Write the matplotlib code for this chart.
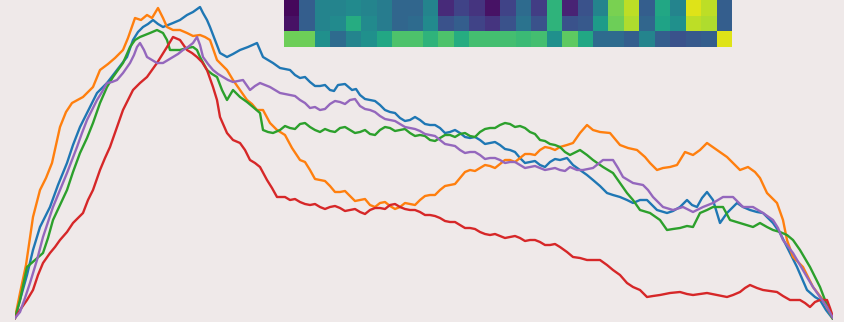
import numpy as np
import matplotlib
matplotlib.use("Agg")
import matplotlib.pyplot as plt

# walk positions (step) and heights for the five runs
blue_x = [0, 5, 12, 18, 25, 35, 43, 52, 58, 65, 72, 82, 92, 102, 112, 118, 123, 128, 133, 138, 143, 148, 153, 158, 165, 172, 178, 185, 188, 192, 195, 200, 205, 212, 218, 225, 233, 242, 248, 253, 258, 265,
          275, 280, 285, 290, 295, 300, 305, 310, 315, 319, 323, 330, 337, 341, 345, 350, 355, 360, 365, 370, 375, 380, 385, 390, 395, 400, 405, 410, 415, 420, 425, 430, 435, 440, 445, 450, 455, 460, 465, 470, 475, 480, 485, 490, 495, 500, 505, 510, 515, 520, 525, 530, 535, 540, 545,
          552, 558, 565, 572, 578, 585, 592, 598, 605, 612, 618, 625, 632, 642, 652, 658, 665, 672, 677, 682, 687, 692, 698, 705, 712, 722, 728, 735, 742, 748, 758, 765, 770, 775, 782, 792, 800, 805, 811, 818]
blue_y = [2, 20, 45, 70, 93, 113, 135, 157, 175, 193, 207, 227, 237, 250, 263, 280, 288, 293, 296, 300, 296, 293, 295, 297, 300, 305, 308, 313, 307, 300, 293, 280, 267, 263, 266, 270, 273, 277, 263, 260, 257, 252,
          250, 245, 242, 243, 238, 234, 234, 235, 230, 229, 235, 236, 230, 231, 225, 221, 220, 219, 215, 210, 208, 207, 202, 199, 200, 203, 200, 196, 195, 195, 192, 187, 188, 190, 187, 183, 182, 183, 180, 176, 177, 178, 175, 171, 170, 168, 162, 157, 158, 159, 155, 153, 158, 161, 160,
          162, 155, 150, 145, 140, 134, 127, 125, 123, 120, 117, 120, 120, 110, 107, 109, 113, 120, 115, 113, 122, 128, 120, 97, 107, 117, 113, 110, 108, 107, 97, 87, 77, 67, 53, 30, 23, 20, 10, 1]

orange_x = [0, 5, 11, 18, 25, 31, 37, 45, 51, 57, 68, 78, 85, 93, 100, 108, 113, 120, 126, 132, 137, 143, 148, 152, 158, 165, 172, 178, 185, 190, 195, 202, 207, 212, 218, 225, 232, 237, 242, 248, 255, 262,
            270, 277, 285, 290, 295, 300, 305, 310, 315, 320, 325, 330, 335, 340, 345, 350, 355, 360, 365, 370, 375, 380, 385, 390, 395, 400, 405, 410, 415, 420, 425, 430, 435, 440, 445, 450, 455, 460, 465, 470, 475, 480, 485, 490, 495, 500, 505, 510, 515, 520, 525, 530, 535, 540, 545,
            552, 558, 565, 572, 578, 585, 595, 605, 613, 622, 630, 635, 642, 648, 655, 662, 670, 678, 685, 692, 702, 712, 720, 725, 733, 740, 745, 752, 762, 768, 772, 778, 788, 798, 808, 815, 818]
orange_y = [2, 27, 55, 103, 130, 142, 157, 193, 208, 217, 223, 233, 250, 256, 262, 270, 282, 302, 300, 305, 302, 312, 302, 293, 290, 290, 287, 284, 285, 283, 280, 260, 255, 250, 240, 230, 220, 216, 210, 210, 197, 190,
            185, 172, 160, 158, 150, 141, 140, 139, 134, 128, 128, 129, 124, 119, 120, 121, 115, 113, 117, 118, 114, 111, 113, 117, 116, 115, 120, 124, 125, 125, 130, 134, 135, 136, 142, 148, 150, 149, 152, 155, 154, 152, 156, 160, 160, 158, 162, 166, 166, 165, 170, 173, 172, 170, 173,
            175, 177, 187, 195, 190, 188, 187, 175, 172, 170, 163, 157, 150, 152, 153, 155, 168, 165, 170, 177, 170, 163, 155, 150, 153, 148, 142, 127, 117, 100, 80, 63, 53, 33, 20, 7, 1]

green_x = [0, 5, 12, 20, 28, 33, 38, 45, 52, 58, 65, 72, 78, 85, 92, 98, 103, 108, 115, 120, 125, 130, 135, 142, 148, 152, 155, 160, 165, 172, 178, 182, 185, 192, 197, 202, 207, 212, 218, 225, 232, 238, 245, 248, 253, 258,
           265, 270, 275, 280, 285, 290, 295, 300, 305, 310, 315, 320, 325, 330, 335, 340, 345, 350, 355, 360, 365, 370, 375, 380, 385, 390, 395, 400, 405, 410, 415, 420, 425, 430, 435, 440, 445, 450, 455, 460, 465, 470, 475, 480, 485, 490, 495, 500, 505, 510, 515, 520, 525, 530, 535, 540, 545, 550, 555,
           565, 572, 578, 588, 598, 605, 612, 618, 625, 635, 645, 652, 658, 665, 672, 678, 685, 692, 698, 708, 715, 725, 732, 738, 745, 752, 758, 765, 772, 778, 785, 795, 805, 810, 815, 818]
green_y = [2, 20, 53, 60, 67, 82, 100, 115, 130, 148, 167, 182, 197, 217, 233, 243, 250, 257, 273, 280, 283, 285, 287, 290, 287, 280, 270, 270, 270, 272, 273, 270, 263, 250, 246, 243, 230, 220, 230, 223, 218, 213, 207, 190, 188, 187,
           190, 194, 192, 191, 196, 197, 193, 190, 188, 191, 189, 188, 192, 193, 190, 187, 188, 190, 186, 185, 190, 193, 192, 189, 190, 191, 187, 184, 185, 184, 180, 179, 182, 185, 185, 183, 186, 187, 184, 183, 188, 191, 192, 192, 195, 197, 196, 193, 194, 192, 188, 186, 180, 179, 176, 175, 173, 168, 165,
           170, 165, 160, 153, 147, 137, 127, 120, 110, 107, 100, 90, 91, 92, 94, 93, 107, 110, 113, 113, 100, 97, 95, 93, 97, 93, 90, 88, 85, 80, 70, 53, 33, 20, 7, 1]

red_x = [0, 5, 12, 18, 23, 28, 35, 40, 45, 52, 58, 63, 68, 73, 78, 85, 90, 95, 102, 108, 113, 118, 125, 132, 137, 142, 147, 152, 158, 165, 172, 177, 182, 187, 192, 198, 202, 205, 212, 218, 225, 230, 235, 240, 245, 252, 257, 262,
         270, 275, 280, 285, 290, 295, 300, 305, 310, 315, 320, 325, 330, 335, 340, 345, 350, 355, 360, 365, 370, 375, 380, 385, 390, 395, 400, 405, 410, 415, 420, 425, 430, 435, 440, 445, 450, 455, 460, 465, 470, 475, 480, 485, 490, 495, 500, 505, 510, 515, 520, 525, 530, 535, 540, 545,
         552, 558, 565, 572, 585, 592, 598, 605, 612, 618, 625, 632, 638, 645, 655, 665, 672, 678, 685, 692, 702, 712, 718, 725, 730, 735, 742, 748, 755, 762, 768, 775, 785, 790, 795, 800, 805, 812, 815, 818]
red_y = [2, 10, 20, 30, 45, 57, 67, 73, 80, 88, 97, 102, 107, 120, 130, 150, 162, 173, 193, 210, 220, 230, 237, 243, 250, 257, 265, 273, 283, 280, 270, 267, 263, 258, 250, 233, 220, 203, 187, 180, 177, 170, 160, 157, 153, 140, 132, 123,
         123, 120, 121, 118, 116, 115, 116, 113, 111, 113, 114, 112, 109, 110, 111, 108, 106, 110, 112, 112, 111, 115, 116, 113, 111, 110, 110, 108, 105, 105, 104, 102, 99, 98, 98, 95, 92, 92, 91, 88, 86, 85, 86, 84, 82, 83, 84, 82, 79, 80, 80, 78, 75, 75, 76, 73,
         68, 63, 62, 60, 60, 55, 50, 45, 37, 33, 30, 23, 24, 25, 27, 28, 26, 25, 26, 27, 25, 23, 25, 28, 32, 35, 32, 30, 29, 28, 24, 20, 20, 17, 13, 18, 20, 20, 12, 3]

purple_x = [0, 5, 10, 15, 22, 28, 33, 38, 45, 52, 57, 62, 67, 72, 77, 82, 87, 92, 97, 102, 108, 115, 119, 122, 125, 129, 132, 137, 142, 148, 153, 158, 163, 168, 173, 178, 182, 185, 188, 193, 198, 203, 208, 213, 218, 223, 228, 235, 240, 245, 250, 255, 260, 265,
            275, 280, 285, 290, 295, 300, 305, 310, 315, 320, 325, 330, 335, 340, 345, 350, 355, 360, 365, 370, 375, 380, 385, 390, 395, 400, 405, 410, 415, 420, 425, 430, 435, 440, 445, 450, 455, 460, 465, 470, 475, 480, 485, 490, 495, 500, 505, 510, 515, 520, 525, 530, 535, 540, 545, 550,
            555, 562, 568, 578, 588, 598, 603, 608, 618, 628, 633, 638, 648, 658, 668, 678, 688, 698, 708, 718, 728, 738, 748, 758, 763, 768, 778, 785, 792, 798, 805, 812, 818]
purple_y = [2, 8, 22, 37, 60, 83, 98, 113, 130, 147, 160, 173, 187, 200, 210, 220, 228, 237, 238, 240, 247, 257, 265, 273, 277, 270, 263, 260, 257, 257, 260, 263, 266, 270, 273, 277, 283, 275, 263, 256, 250, 246, 243, 240, 238, 239, 240, 230, 234, 237, 235, 233, 230, 227,
            225, 224, 220, 217, 212, 213, 210, 211, 216, 219, 218, 216, 220, 221, 214, 211, 210, 208, 204, 201, 200, 199, 196, 193, 192, 191, 189, 186, 185, 184, 180, 176, 175, 174, 170, 167, 168, 168, 165, 161, 162, 162, 160, 157, 158, 158, 155, 152, 153, 154, 152, 150, 151, 152, 150, 149,
            153, 150, 150, 152, 160, 160, 152, 143, 137, 135, 130, 123, 113, 110, 113, 108, 113, 117, 123, 123, 113, 113, 107, 100, 92, 80, 67, 55, 43, 33, 23, 13, 2]

# heatmap strip, three rows by 29 columns
strip_top = [0.02, 0.30, 0.45, 0.45, 0.48, 0.45, 0.42, 0.33, 0.33, 0.45, 0.12, 0.20, 0.15, 0.05, 0.20, 0.35, 0.18, 0.65, 0.10, 0.25, 0.45, 0.80, 0.90, 0.30, 0.60, 0.45, 0.95, 0.90, 0.30]
strip_mid = [0.05, 0.30, 0.45, 0.48, 0.62, 0.48, 0.42, 0.33, 0.35, 0.48, 0.25, 0.30, 0.20, 0.15, 0.25, 0.38, 0.25, 0.65, 0.25, 0.28, 0.55, 0.78, 0.88, 0.33, 0.58, 0.50, 0.90, 0.88, 0.30]
strip_bot = [0.78, 0.78, 0.50, 0.35, 0.45, 0.50, 0.60, 0.72, 0.72, 0.65, 0.72, 0.62, 0.70, 0.70, 0.70, 0.68, 0.70, 0.50, 0.75, 0.60, 0.35, 0.35, 0.30, 0.45, 0.30, 0.25, 0.28, 0.30, 0.95]

bg = '#efe9e9'
fig = plt.figure(figsize=(8.44, 3.22), dpi=100, facecolor=bg)

ax = fig.add_axes([15 / 844, 2 / 322, 818 / 844, 320 / 322])
ax.set_facecolor(bg)
runs = [(blue_x, blue_y, 'tab:blue'), (orange_x, orange_y, 'tab:orange'),
        (green_x, green_y, 'tab:green'), (red_x, red_y, 'tab:red'),
        (purple_x, purple_y, 'tab:purple')]
for xs, ys, c in runs:
    ax.plot(xs, ys, color=c, lw=1.7)
ax.set_xlim(0, 818)
ax.set_ylim(0, 320)
ax.axis('off')

# inset strip at the top
ins = fig.add_axes([284 / 844, 1 - 47 / 322, 448 / 844, 47 / 322])
grid = np.array([strip_top, strip_mid, strip_bot])
ins.imshow(grid, cmap='viridis', vmin=0, vmax=1, aspect='auto', interpolation='nearest')
ins.set_xticks([])
ins.set_yticks([])
for s in ins.spines.values():
    s.set_visible(False)

fig.savefig('out.png', dpi=100, facecolor=bg)
